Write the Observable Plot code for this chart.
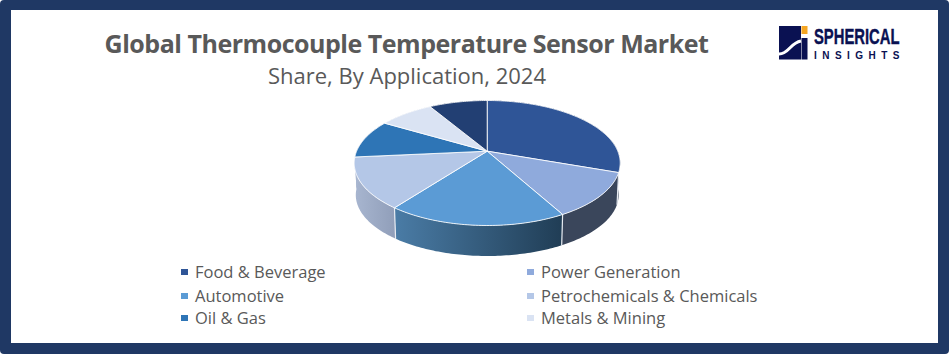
<!DOCTYPE html>
<html><head><meta charset="utf-8">
<script src="https://cdn.jsdelivr.net/npm/d3@7"></script>
<script src="https://cdn.jsdelivr.net/npm/@observablehq/plot@0.6"></script>
<style>
html,body{margin:0;padding:0;background:#fff;}
#page{position:relative;width:949px;height:354px;overflow:hidden;background:#1f3864;border-radius:4px;font-family:"Open Sans",sans-serif;color:#595959;}
#panel{position:absolute;left:11px;top:10px;width:927px;height:333px;background:#fff;}
#chart{position:absolute;left:0;top:0;}
#chart svg{display:block;background:transparent;}
.t{position:absolute;white-space:nowrap;line-height:1;}
#title{left:0;width:813px;text-align:center;top:31px;font-size:25px;font-weight:700;letter-spacing:-0.48px;}
#subtitle{left:0;width:814px;text-align:center;top:64px;font-size:22px;}
.lg{position:absolute;font-size:16.5px;line-height:20px;white-space:nowrap;}
.lg i{position:absolute;left:-14px;top:7px;width:7px;height:6px;}
#logo{position:absolute;left:775px;top:20px;overflow:visible;}
</style></head>
<body><div id="page"><div id="panel"></div>
<div id="chart"></div>
<div id="title" class="t">Global Thermocouple Temperature Sensor Market</div>
<div id="subtitle" class="t">Share, By Application, 2024</div>
<div id="legend"></div>
<svg id="logo" width="160" height="50" viewBox="775 20 160 50">
<rect x="779" y="26" width="22" height="33.5" fill="#0a1152"/>
<rect x="801.5" y="38" width="6" height="21.5" fill="#0a1152"/>
<rect x="801.5" y="26" width="6" height="8" fill="#f5a623"/>
<path d="M779 54 C789 54 790 43 801 41" fill="none" stroke="#fff" stroke-width="3"/>
<text x="814" y="43.5" font-family="Liberation Sans Narrow,Liberation Sans" font-weight="700" font-size="22" fill="#0a1152" stroke="#0a1152" stroke-width=".4" textLength="85.5" lengthAdjust="spacingAndGlyphs">SPHERICAL</text>
<text x="814" y="58.5" font-family="Liberation Sans" font-weight="700" font-size="10" fill="#0a1152" textLength="85.5" lengthAdjust="spacing">INSIGHTS</text>
</svg>
</div>
<script>
const categories = ["Food & Beverage","Power Generation","Automotive","Petrochemicals & Chemicals","Oil & Gas","Metals & Mining","Others"];
const shares = [30.4,11.6,18.3,13.2,10.0,8.0,8.5];
const topColors = ["#2f5597","#8faadc","#5b9bd5","#b4c7e7","#2e75b6","#dae3f3","#223f73"];
const sideFrom = ["#3a465b","#3a465b","#4a7ca6","#a8b6d0","#a8b6d0","#a8b6d0","#3a465b"];
const sideTo = ["#3a465b","#3a465b","#203d55","#909eb9","#a8b6d0","#a8b6d0","#3a465b"];
const legendCategories = categories.slice(0,6);
const legendRowTops = [262,286,308];
const legendColumns = [195,541];

const tilt = -0.189, depth = 0.512, lowerScale = 0.976, lowerXScale = 0.988;
const squeeze = Math.sqrt(1 - tilt*tilt);
function project(angle, lower){
  const X = Math.sin(angle), Y = -Math.cos(angle), d = 1 + tilt*Y;
  const px = X*squeeze/d, py = (Y+tilt)/d;
  return lower ? {x:px*lowerXScale, y:py*lowerScale+depth} : {x:px, y:py};
}
const arcs = d3.pie().sort(null).value(d=>d)(shares);
const arcPts = (a, lower) => {
  const n = Math.max(2, Math.ceil((a.endAngle-a.startAngle)/(Math.PI/180)));
  return d3.range(n+1).map(i => project(a.startAngle+(a.endAngle-a.startAngle)*i/n, lower));
};
const defs = () => {
  const s = d3.create("svg:defs");
  categories.forEach((c,i)=>{
    const g = s.append("linearGradient").attr("id","side"+i).attr("x1",0).attr("x2",1).attr("y1",0).attr("y2",0);
    g.append("stop").attr("offset",0).attr("stop-color",sideFrom[i]);
    g.append("stop").attr("offset",1).attr("stop-color",sideTo[i]);
  });
  return s.node();
};
const marks = [defs];
arcs.forEach((a,i)=>{
  const poly = [...arcPts(a,false), ...arcPts(a,true).reverse()];
  marks.push(Plot.line(poly,{x:"x",y:"y",fill:`url(#side${i})`,stroke:"none",curve:"linear"}));
});
arcs.forEach((a,i)=>{
  const t = project(a.startAngle,false);
  if (i > 0 && i < 4) marks.push(Plot.line([t,project(a.startAngle,true)],{x:"x",y:"y",stroke:"#e8ecf2",strokeWidth:1.2,curve:"linear"}));
});
arcs.forEach((a,i)=>{
  const c = {x:0,y:tilt};
  marks.push(Plot.line([c,...arcPts(a,false),c],{x:"x",y:"y",fill:topColors[i],stroke:"#fff",strokeOpacity:.85,strokeWidth:1,curve:"linear"}));
});
const plot = Plot.plot({
  width:949,height:354,margin:0,
  x:{domain:[-1,1],range:[353.7,619.7],axis:null},
  y:{domain:[-1,1],range:[100,225],axis:null},
  style:{background:"transparent"},
  marks
});
document.getElementById("chart").append(plot);
const lg = document.getElementById("legend");
legendCategories.forEach((c,i)=>{
  const el = document.createElement("div");
  el.className = "lg";
  el.style.left = legendColumns[i%2]+"px";
  el.style.top = legendRowTops[Math.floor(i/2)]+"px";
  el.innerHTML = `<i style="background:${topColors[i]}"></i>`;
  el.append(c);
  lg.append(el);
});
</script></body></html>
